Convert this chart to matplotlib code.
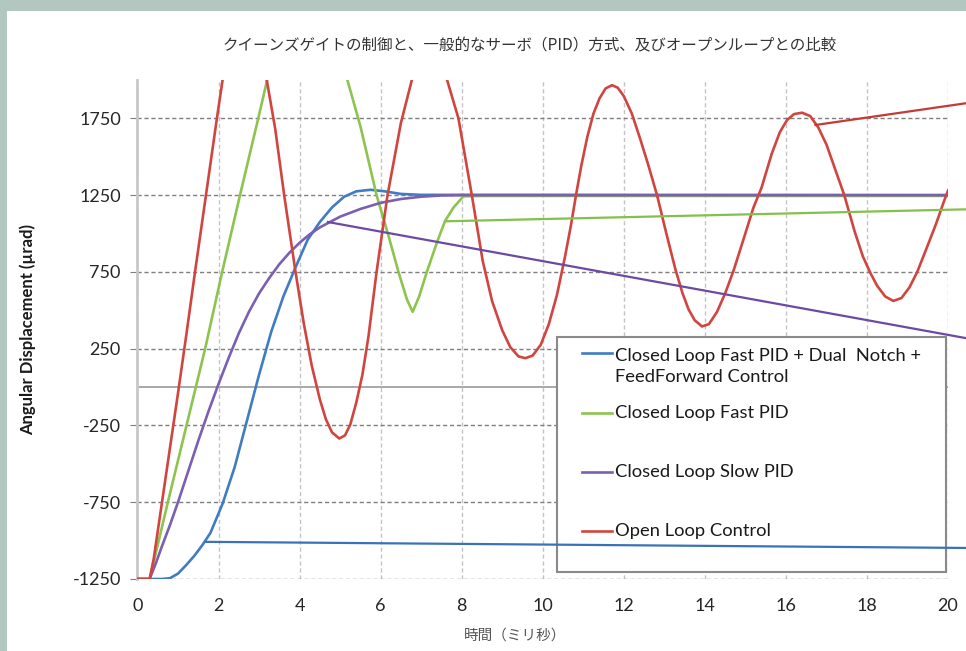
import matplotlib
matplotlib.use("Agg")
import matplotlib.pyplot as plt
from matplotlib.patches import Rectangle

plt.rcParams['font.family'] = ['Lato', 'Noto Sans CJK JP', 'DejaVu Sans']
plt.rcParams['axes.unicode_minus'] = False

title = "クイーンズゲイトの制御と、一般的なサーボ（PID）方式、及びオープンループとの比較"
x_label = "時間（ミリ秒）"
y_label = "Angular Displacement (µrad)"

series_names = [
    "Closed Loop Fast PID + Dual  Notch +\nFeedForward Control",
    "Closed Loop Fast PID",
    "Closed Loop Slow PID",
    "Open Loop Control",
]

# values (time in ms, displacement in µrad)
blue_t = [0, 0.6, 0.8, 1.0, 1.2, 1.4, 1.6, 1.8, 2.1, 2.4, 2.7, 3.0, 3.3, 3.6, 3.9,
          4.2, 4.5, 4.8, 5.1, 5.4, 5.75, 6.1, 6.5, 7.0, 20]
blue_v = [-1250, -1250, -1245, -1215, -1160, -1100, -1030, -950, -760, -520, -220,
          80, 360, 590, 780, 960, 1075, 1170, 1240, 1275, 1285, 1275, 1258, 1252, 1250]

green_t = [0, 0.3, 0.75, 1.21, 1.67, 2.09, 2.53, 2.98, 3.2, 3.6, 4.0, 4.3, 4.6,
           4.9, 5.18, 5.5, 5.9, 6.2, 6.44, 6.65, 6.79, 6.95, 7.14, 7.4, 7.59,
           7.8, 8.04, 8.5, 20]
green_v = [-1250, -1250, -750, -250, 250, 750, 1250, 1750, 2000, 2420, 2780, 2880,
           2750, 2330, 2000, 1700, 1250, 980, 750, 570, 490, 590, 750, 950, 1082,
           1170, 1242, 1245, 1245]

purple_t = [0, 0.3, 0.45, 0.6, 0.8, 1.0, 1.25, 1.5, 1.75, 2.0, 2.25, 2.5, 2.75,
            3.0, 3.25, 3.5, 3.75, 4.0, 4.25, 4.5, 4.75, 5.0, 5.5, 6.0, 6.5, 7.0,
            7.5, 8.0, 20]
purple_v = [-1250, -1250, -1150, -1040, -900, -750, -550, -350, -160, 20, 190, 350,
            490, 610, 710, 800, 875, 940, 995, 1040, 1075, 1110, 1160, 1200, 1225,
            1240, 1248, 1250, 1250]

red_t = [0, 0.3, 0.4, 0.6, 0.8, 1.0, 1.2, 1.42, 1.69, 1.96, 2.1, 2.3, 2.5, 2.65,
         2.8, 3.0, 3.19, 3.4, 3.62, 3.9, 4.1, 4.3, 4.5, 4.65, 4.8, 4.98, 5.12, 5.25,
         5.4, 5.55, 5.7, 5.9, 6.17, 6.5, 6.77, 6.95, 7.1, 7.2, 7.35, 7.5, 7.64,
         7.92, 8.25, 8.52, 8.75, 9.0, 9.2, 9.4, 9.57, 9.75, 9.95, 10.15, 10.35,
         10.55, 10.7, 10.82, 10.95, 11.1, 11.25, 11.4, 11.55, 11.71, 11.85, 12.0,
         12.2, 12.4, 12.6, 12.82, 13.05, 13.27, 13.45, 13.6, 13.75, 13.93, 14.1,
         14.3, 14.5, 14.71, 14.95, 15.2, 15.4, 15.65, 15.85, 16.03, 16.2, 16.4,
         16.6, 16.8, 17.0, 17.2, 17.44, 17.7, 17.9, 18.09, 18.25, 18.45, 18.65,
         18.85, 19.05, 19.24, 19.45, 19.7, 19.9, 20.0]
red_v = [-1250, -1250, -1120, -760, -400, -40, 330, 750, 1250, 1750, 2000, 2320,
         2520, 2580, 2520, 2300, 2000, 1680, 1250, 750, 420, 140, -80, -210, -295,
         -335, -315, -245, -100, 80, 330, 750, 1250, 1720, 2000, 2160, 2230, 2245,
         2220, 2130, 2000, 1750, 1250, 820, 560, 370, 260, 200, 188, 205, 275, 410,
         600, 850, 1060, 1250, 1440, 1630, 1780, 1880, 1945, 1966, 1950, 1895, 1780,
         1620, 1450, 1250, 1000, 770, 610, 505, 435, 395, 410, 490, 610, 760, 960,
         1170, 1300, 1520, 1660, 1740, 1778, 1787, 1765, 1690, 1580, 1430, 1250,
         1010, 850, 740, 660, 590, 561, 580, 650, 750, 890, 1060, 1210, 1280]

x_ticks = list(range(0, 21, 2))
y_ticks = [-1250, -750, -250, 250, 750, 1250, 1750]

# leader lines from the curves out past the cropped right edge
leader_start = [(1.69, -1008), (7.64, 1080), (4.7, 1075), (16.73, 1707)]
leader_end = [(21.0, -1049), (21.0, 1161), (21.0, 292), (21.0, 1870)]

colors = ['#3f7cc4', '#8cc44f', '#7b5fb0', '#d0453f']
leader_colors = ['#3a72ba', '#84c04a', '#6a4aa4', '#c23b37']

fig = plt.figure(figsize=(9.66, 6.51), dpi=100, facecolor='#b2c7c0')
fig.patches.append(Rectangle((7 / 966, 0), 1, 1 - 11 / 651, transform=fig.transFigure,
                             facecolor='white', edgecolor='none', zorder=-10))
ax = fig.add_axes([0.1423, 0.1106, 0.8391, 0.7665])
ax.set_facecolor('none')

series = [(blue_t, blue_v), (green_t, green_v), (purple_t, purple_v), (red_t, red_v)]
for (t, v), c in zip(series, colors):
    ax.plot(t, v, color=c, lw=1.9, zorder=3)

for (x0, y0), (x1, y1), c in zip(leader_start, leader_end, leader_colors):
    ax.plot([x0, x1], [y0, y1], color=c, lw=1.6, clip_on=False, zorder=7)

ax.set_xlim(0, 20)
ax.set_ylim(-1250, 2000)
ax.set_xticks(x_ticks)
ax.set_yticks(y_ticks)
ax.grid(axis='y', color='#7f7f7f', ls=(0, (3, 2)), lw=1.0)
ax.grid(axis='x', color='#c4c4c4', ls=(0, (3, 2)), lw=1.0)
ax.axhline(0, color='#9a9a9a', lw=1.2, zorder=1)
for s in ['top', 'right', 'bottom']:
    ax.spines[s].set_visible(False)
ax.spines['left'].set_color('#c8c8c8')
ax.spines['left'].set_linewidth(2)
ax.tick_params(axis='y', length=5, color='#7f7f7f', pad=7, labelsize=13,
               labelcolor='#262626')
ax.tick_params(axis='x', length=0, pad=14, labelsize=13, labelcolor='#262626')

ax.set_ylabel(y_label, fontsize=12, fontweight='bold', color='#1a1a1a', labelpad=26)
ax.set_xlabel(x_label, fontsize=10.5, color='#555555',
              family=['Noto Sans CJK JP', 'DejaVu Sans'])
ax.xaxis.set_label_coords(0.466, -0.1)
fig.text(0.548, 0.929, title, ha='center', va='center', fontsize=11.2, color='#333333',
         family=['Noto Sans CJK JP', 'DejaVu Sans'])

# legend box laid out like the original (axes fractions)
ax.add_patch(Rectangle((0.5176, 0.014), 0.4799, 0.471, transform=ax.transAxes,
                       facecolor='white', edgecolor='#8a8a8a', lw=1.5, zorder=5))
handle_y = [0.4523, 0.3333, 0.2150, 0.0962]
text_y = [0.4260, 0.3333, 0.2150, 0.0962]
for name, c, hy, ty in zip(series_names, colors, handle_y, text_y):
    ax.plot([0.5483, 0.5853], [hy, hy], color=c, lw=1.9, transform=ax.transAxes,
            zorder=6)
    ax.text(0.5892, ty, name, transform=ax.transAxes, va='center', ha='left',
            fontsize=13.2, color='#1a1a1a', linespacing=1.45, zorder=6)

fig.savefig('out.png', dpi=100, facecolor=fig.get_facecolor())
